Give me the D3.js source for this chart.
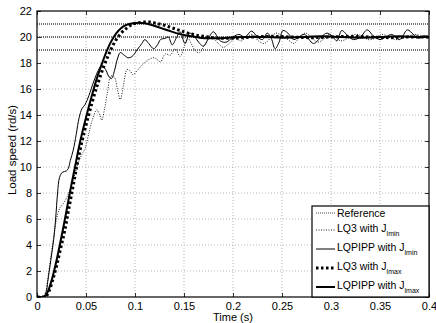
<!DOCTYPE html>
<html><head><meta charset="utf-8">
<script src="https://cdn.jsdelivr.net/npm/d3@7"></script>
<style>body{margin:0;background:#fff}svg{display:block}text{font-family:"Liberation Sans",Arial,Helvetica,sans-serif;fill:#000}</style>
</head><body>
<svg id="c" width="436" height="323"></svg>
<script>
const xTicks=[0,0.05,0.1,0.15,0.2,0.25,0.3,0.35,0.4];
const yTicks=[0,2,4,6,8,10,12,14,16,18,20,22];
const refLevels=[19,20,21];
const lq3Min=[[0,0],[0.006,0],[0.009,0.4],[0.011,1.4],[0.014,3.0],[0.017,4.6],[0.020,6.0],[0.023,6.8],[0.027,7.2],[0.030,7.6],[0.034,8.3],[0.038,9.3],[0.042,10.3],[0.046,11.0],[0.049,11.4],[0.052,12.3],[0.056,13.5],[0.061,14.4],[0.064,14.0],[0.066,13.6],[0.069,14.5],[0.072,15.8],[0.0755,17.0],[0.079,16.9],[0.082,16.0],[0.085,15.2],[0.088,16.2],[0.092,17.5],[0.095,17.4],[0.098,17.1],[0.102,17.4],[0.108,17.9],[0.115,18.3],[0.120,18.4],[0.126,18.1],[0.131,18.7],[0.136,18.6],[0.141,19.1],[0.146,18.5],[0.150,19.2],[0.154,19.9],[0.158,19.4],[0.162,18.9],[0.166,18.8],[0.171,19.4],[0.178,20.0],[0.185,19.5],[0.19,19.2],[0.196,19.5],[0.202,19.9],[0.208,19.7],[0.214,20.0],[0.22,20.2],[0.226,19.7],[0.232,19.5],[0.238,19.9],[0.244,20.3],[0.25,20.1],[0.256,19.8],[0.262,19.5],[0.268,20.0],[0.274,20.3],[0.28,20.0],[0.286,19.6],[0.292,19.8],[0.298,20.2],[0.304,20.0],[0.31,19.7],[0.317,19.9],[0.324,20.2],[0.331,20.1],[0.338,19.8],[0.345,19.9],[0.352,20.2],[0.359,20.0],[0.366,19.8],[0.373,19.9],[0.38,20.1],[0.387,20.2],[0.394,20.0],[0.4,19.9]];
const lqpippMin=[[0,0],[0.006,0],[0.009,0.3],[0.011,1.2],[0.014,2.8],[0.017,4.4],[0.019,6.0],[0.021,8.0],[0.023,9.2],[0.026,9.6],[0.030,9.7],[0.032,9.9],[0.034,10.5],[0.037,11.3],[0.040,12.5],[0.043,13.8],[0.046,14.5],[0.049,14.8],[0.053,15.5],[0.058,16.6],[0.063,17.5],[0.066,17.8],[0.070,17.5],[0.073,17.0],[0.076,16.8],[0.079,17.4],[0.082,18.3],[0.085,18.8],[0.089,18.6],[0.093,18.4],[0.097,18.5],[0.102,19.0],[0.107,19.5],[0.110,19.8],[0.114,19.5],[0.119,19.1],[0.123,19.4],[0.126,19.8],[0.131,19.9],[0.134,20.0],[0.138,19.4],[0.142,19.9],[0.146,20.4],[0.151,19.5],[0.156,20.3],[0.162,19.9],[0.166,19.5],[0.170,19.3],[0.175,19.9],[0.180,20.4],[0.187,19.7],[0.193,19.6],[0.2,20.0],[0.206,20.2],[0.212,20.0],[0.219,20.45],[0.225,20.0],[0.23,19.8],[0.235,20.3],[0.239,19.9],[0.243,19.1],[0.247,19.6],[0.251,20.5],[0.256,20.3],[0.262,19.8],[0.267,20.0],[0.273,20.2],[0.282,19.5],[0.29,20.0],[0.296,20.3],[0.302,20.0],[0.306,19.7],[0.311,20.5],[0.317,20.1],[0.323,19.8],[0.33,20.0],[0.337,20.55],[0.343,20.1],[0.35,19.8],[0.356,20.0],[0.362,20.2],[0.37,19.8],[0.378,20.55],[0.384,20.2],[0.39,19.9],[0.395,20.1],[0.4,20.0]];
const lq3Max=[[0,0],[0.008,0],[0.012,0.4],[0.016,1.3],[0.020,2.4],[0.024,3.7],[0.028,5.0],[0.032,6.6],[0.036,8.2],[0.041,10.2],[0.046,12.0],[0.051,13.5],[0.056,14.9],[0.062,16.4],[0.068,17.7],[0.074,18.8],[0.080,19.7],[0.086,20.3],[0.092,20.7],[0.098,21.0],[0.104,21.1],[0.11,21.15],[0.116,21.15],[0.122,21.05],[0.13,20.9],[0.138,20.7],[0.146,20.5],[0.154,20.3],[0.162,20.15],[0.17,20.05],[0.18,19.95],[0.19,19.9],[0.2,19.9],[0.21,19.95],[0.22,20.0],[0.24,20.05],[0.26,20.0],[0.28,19.95],[0.3,20.0],[0.32,20.05],[0.34,20.0],[0.36,19.95],[0.38,20.0],[0.4,20.0]];
const lqpippMax=[[0,0],[0.007,0],[0.011,0.4],[0.015,1.3],[0.019,2.5],[0.023,3.9],[0.027,5.4],[0.031,7.0],[0.035,8.6],[0.039,10.1],[0.043,11.6],[0.047,12.9],[0.051,14.1],[0.056,15.5],[0.061,16.8],[0.066,17.9],[0.071,18.9],[0.076,19.7],[0.081,20.3],[0.086,20.7],[0.092,20.95],[0.098,21.05],[0.104,21.1],[0.11,21.05],[0.118,20.9],[0.126,20.7],[0.134,20.5],[0.142,20.3],[0.15,20.15],[0.158,20.05],[0.166,19.95],[0.175,19.9],[0.185,19.9],[0.195,19.95],[0.21,20.0],[0.23,20.0],[0.25,19.95],[0.27,20.0],[0.29,20.05],[0.31,20.0],[0.33,19.95],[0.35,20.0],[0.37,20.05],[0.39,20.0],[0.4,20.0]];
const legendLabels=[["Reference",""],["LQ3 with J","lmin"],["LQPIPP with J","lmin"],["LQ3 with J","lmax"],["LQPIPP with J","lmax"]];

const W=436,H=323,L=37,R=429,T=11,B=297;
const svg=d3.select("#c");
const x=d3.scaleLinear().domain([0,0.4]).range([L,R]);
const y=d3.scaleLinear().domain([0,22]).range([B,T]);
const fmt=d=>String(+d.toFixed(2));

svg.append("defs").append("clipPath").attr("id","clip").append("rect").attr("x",L).attr("y",T).attr("width",R-L).attr("height",B-T);

// grid
const g=svg.append("g");
g.selectAll(".gx").data(xTicks.slice(1,-1)).join("line").attr("x1",d=>x(d)).attr("x2",d=>x(d)).attr("y1",T).attr("y2",B).attr("stroke","#999").attr("stroke-width",0.7).attr("stroke-dasharray","1,2");
g.selectAll(".gy").data(yTicks.slice(1,-1)).join("line").attr("y1",d=>y(d)).attr("y2",d=>y(d)).attr("x1",L).attr("x2",R).attr("stroke","#999").attr("stroke-width",0.7).attr("stroke-dasharray","1,2");

// axes
const ax=svg.append("g").attr("transform",`translate(0,${B})`).call(d3.axisBottom(x).tickValues(xTicks).tickFormat(fmt).tickSizeInner(-4).tickSizeOuter(0).tickPadding(5));
const axT=svg.append("g").attr("transform",`translate(0,${T})`).call(d3.axisTop(x).tickValues(xTicks).tickFormat("").tickSizeInner(-4).tickSizeOuter(0));
const ay=svg.append("g").attr("transform",`translate(${L},0)`).call(d3.axisLeft(y).tickValues(yTicks).tickFormat(fmt).tickSizeInner(-4).tickSizeOuter(0).tickPadding(5));
const ayR=svg.append("g").attr("transform",`translate(${R},0)`).call(d3.axisRight(y).tickValues(yTicks).tickFormat("").tickSizeInner(-4).tickSizeOuter(0));
[ax,axT,ay,ayR].forEach(a=>{a.select(".domain").remove();a.selectAll("line").attr("stroke","#000").attr("stroke-width",0.8);a.selectAll("text").attr("font-size","11px").attr("fill","#000").style("font-family",'"Liberation Sans",Arial,sans-serif');});

// reference lines
const pl=svg.append("g").attr("clip-path","url(#clip)");
pl.selectAll(".ref").data(refLevels).join("line").attr("x1",L).attr("x2",R).attr("y1",d=>y(d)).attr("y2",d=>y(d)).attr("stroke","#444").attr("stroke-width",1.3).attr("stroke-dasharray","1,1");

const lineC=d3.line().x(d=>x(d[0])).y(d=>y(d[1])).curve(d3.curveCatmullRom.alpha(0.5));
const lineM=d3.line().x(d=>x(d[0])).y(d=>y(d[1])).curve(d3.curveMonotoneX);
pl.append("path").attr("d",lineC(lq3Min)).attr("fill","none").attr("stroke","#000").attr("stroke-width",0.9).attr("stroke-dasharray","1,1.5");
pl.append("path").attr("d",lineC(lqpippMin)).attr("fill","none").attr("stroke","#000").attr("stroke-width",1);
pl.append("path").attr("d",lineM(lqpippMax)).attr("fill","none").attr("stroke","#000").attr("stroke-width",2);
pl.append("path").attr("d",lineM(lq3Max)).attr("fill","none").attr("stroke","#000").attr("stroke-width",3).attr("stroke-dasharray","2.5,2.5");

// frame
svg.append("rect").attr("x",L).attr("y",T).attr("width",R-L).attr("height",B-T).attr("fill","none").attr("stroke","#000").attr("stroke-width",1.2);

// axis labels
svg.append("text").attr("x",233).attr("y",321).attr("text-anchor","middle").attr("font-size","11px").attr("fill","#000").text("Time (s)");
svg.append("text").attr("transform","translate(16,150) rotate(-90)").attr("text-anchor","middle").attr("font-size","11.5px").attr("fill","#000").text("Load speed (rd/s)");

// legend
const lg=svg.append("g");
lg.append("rect").attr("x",312).attr("y",206).attr("width",R-312).attr("height",B-206).attr("fill","#fff").attr("stroke","#000").attr("stroke-width",1.2);
const rowsY=[213,230,249,268,287];
const styles=[{c:"#444",w:1,da:"1,1"},{c:"#000",w:0.9,da:"1,1.5"},{c:"#000",w:1,da:null},{c:"#000",w:3,da:"2.5,2.5"},{c:"#000",w:2,da:null}];
legendLabels.forEach((lab,i)=>{
  const s=styles[i];
  lg.append("line").attr("x1",316).attr("x2",335).attr("y1",rowsY[i]).attr("y2",rowsY[i]).attr("stroke",s.c).attr("stroke-width",s.w).attr("stroke-dasharray",s.da);
  const t=lg.append("text").attr("x",337).attr("y",rowsY[i]+(i===0?3.5:1.5)).attr("font-size","10.5px").attr("fill","#000");
  t.append("tspan").text(lab[0]);
  if(lab[1]) t.append("tspan").attr("dy",4).attr("font-size","7px").attr("fill","#000").text(lab[1]);
});
</script>
</body></html>
